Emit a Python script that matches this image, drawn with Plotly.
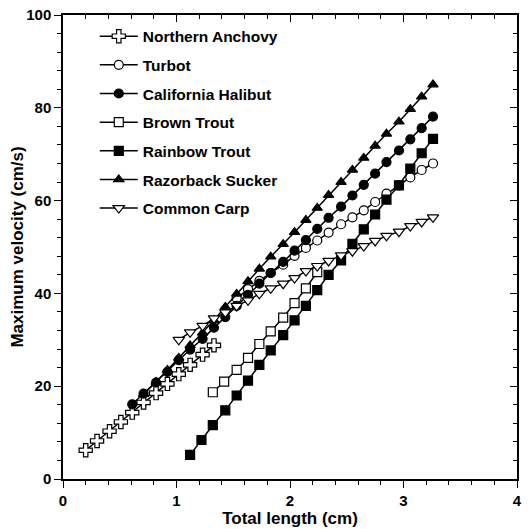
import plotly.graph_objects as go

# ---- data ----
anchovy_len = [0.20, 0.30, 0.41, 0.51, 0.61, 0.71, 0.82, 0.92, 1.02, 1.12, 1.23, 1.33]
anchovy_vel = [6.2, 8.2, 10.3, 12.3, 14.3, 16.5, 18.5, 20.5, 22.6, 24.6, 26.8, 28.8]

turbot_len = [1.53, 1.63, 1.73, 1.83, 1.94, 2.04, 2.14,
              2.24, 2.34, 2.45, 2.55, 2.65, 2.75, 2.85, 2.96, 3.06, 3.16, 3.26]
turbot_vel = [39.0, 40.9, 42.7, 44.4, 46.2, 48.1, 49.8,
              51.4, 53.1, 54.9, 56.4, 57.9, 59.7, 61.5, 63.3, 65.0, 66.6, 68.0]

halibut_len = [0.61, 0.71, 0.82, 0.92, 1.02, 1.12, 1.23, 1.33, 1.43, 1.53, 1.63, 1.73,
               1.83, 1.94, 2.04, 2.14, 2.24, 2.34, 2.45, 2.55, 2.65, 2.75, 2.85, 2.96,
               3.06, 3.16, 3.26]
halibut_vel = [16.1, 18.4, 20.8, 23.1, 25.6, 27.9, 30.2, 32.6, 34.9, 37.3, 39.7, 42.1,
               44.4, 46.8, 49.2, 51.5, 53.9, 56.3, 58.7, 61.1, 63.4, 65.8, 68.3, 70.8,
               73.2, 75.6, 78.1]

brown_len = [1.32, 1.42, 1.53, 1.63, 1.73, 1.83, 1.94, 2.04, 2.14, 2.24]
brown_vel = [18.7, 21.0, 23.5, 26.1, 29.1, 31.8, 34.8, 37.9, 41.1, 44.6]

rainbow_len = [1.12, 1.22, 1.32, 1.43, 1.53, 1.63, 1.73, 1.83, 1.94, 2.04, 2.14,
               2.24, 2.34, 2.45, 2.55, 2.65, 2.75, 2.85, 2.96, 3.06, 3.16, 3.26]
rainbow_vel = [5.2, 8.4, 11.6, 14.8, 18.0, 21.2, 24.6, 27.7, 31.0, 34.2, 37.3,
               40.7, 44.0, 47.1, 50.7, 53.8, 57.0, 60.2, 63.3, 66.9, 70.2, 73.3]

razorback_len = [0.71, 0.82, 0.92, 1.02, 1.12, 1.23, 1.33, 1.43, 1.53, 1.63, 1.73, 1.83,
                 1.94, 2.04, 2.14, 2.24, 2.34, 2.45, 2.55, 2.65, 2.75, 2.85, 2.96, 3.06,
                 3.16, 3.26]
razorback_vel = [18.3, 20.9, 23.5, 26.1, 28.8, 31.5, 34.2, 37.1, 39.9, 42.6, 45.3, 47.9,
                 50.6, 53.2, 55.8, 58.4, 61.2, 64.0, 66.6, 69.2, 71.8, 74.4, 77.0, 79.7,
                 82.4, 85.0]

carp_len = [1.02, 1.12, 1.23, 1.33, 1.43, 1.53, 1.63, 1.73, 1.83, 1.94, 2.04, 2.14,
            2.24, 2.34, 2.45, 2.55, 2.65, 2.75, 2.85, 2.96, 3.06, 3.16, 3.26]
carp_vel = [30.0, 31.6, 33.0, 34.6, 35.9, 37.3, 38.5, 39.9, 41.1, 42.1, 43.3, 44.8,
            45.9, 47.0, 48.2, 49.1, 50.2, 51.3, 52.4, 53.3, 54.5, 55.4, 56.4]

x_ticks = [0, 1, 2, 3, 4]
y_ticks = [0, 20, 40, 60, 80, 100]

# name, x, y, symbol, fill, size
series = [
    ("Northern Anchovy", anchovy_len, anchovy_vel, "cross", "white", 11),
    ("Turbot", turbot_len, turbot_vel, "circle", "white", 9),
    ("California Halibut", halibut_len, halibut_vel, "circle", "black", 9),
    ("Brown Trout", brown_len, brown_vel, "square", "white", 9),
    ("Rainbow Trout", rainbow_len, rainbow_vel, "square", "black", 9),
    ("Razorback Sucker", razorback_len, razorback_vel, "triangle-up", "black", 9),
    ("Common Carp", carp_len, carp_vel, "triangle-down", "white", 10),
]

FONT = "Liberation Sans, Arial, Helvetica, sans-serif"

fig = go.Figure()
for i, (name, xs, ys, sym, fill, sz) in enumerate(series):
    fig.add_trace(go.Scatter(
        x=xs, y=ys, name=name, mode="lines+markers", legendgroup=f"g{i}",
        line=dict(color="black", width=1.5),
        marker=dict(symbol=sym, size=sz, color=fill, line=dict(color="black", width=1.2)),
    ))

# invisible trace to activate the mirrored top/right axes
fig.add_trace(go.Scatter(x=[0], y=[0], xaxis="x2", yaxis="y2", mode="markers",
                         marker=dict(opacity=0), showlegend=False, hoverinfo="skip"))

tickfont = dict(family=FONT, size=15, color="black", weight="bold")
titlefont = dict(family=FONT, size=17, color="black", weight="bold")

fig.update_layout(
    width=522, height=521,
    margin=dict(l=55, r=13, t=7, b=50, autoexpand=False),
    paper_bgcolor="white", plot_bgcolor="white",
    font=dict(family=FONT, color="black"),
    showlegend=True,
    legend=dict(x=0.07, y=0.99, xanchor="left", yanchor="top",
                bgcolor="rgba(0,0,0,0)", borderwidth=0,
                font=dict(family=FONT, size=15.5, color="black", weight="bold"),
                itemwidth=38, tracegroupgap=5.5, traceorder="grouped"),
    xaxis=dict(range=[0, 4], tickvals=x_ticks, ticks="outside", ticklen=7, tickwidth=1.3,
               tickcolor="black", showline=True, linecolor="black", linewidth=1.5,
               showgrid=False, zeroline=False, tickfont=tickfont, automargin=False,
               ticklabeloverflow="allow",
               minor=dict(dtick=0.2, ticks="outside", ticklen=4, tickwidth=1,
                          tickcolor="black", showgrid=False),
               title=dict(text="Total length (cm)", font=titlefont, standoff=0)),
    yaxis=dict(range=[0, 100], tickvals=y_ticks, ticks="outside", ticklen=7, tickwidth=1.3,
               tickcolor="black", showline=True, linecolor="black", linewidth=1.5,
               showgrid=False, zeroline=False, tickfont=tickfont, automargin=False,
               ticklabeloverflow="allow",
               minor=dict(dtick=4, ticks="outside", ticklen=4, tickwidth=1,
                          tickcolor="black", showgrid=False),
               title=dict(text="Maximum velocity (cm/s)", font=titlefont, standoff=13)),
    xaxis2=dict(range=[0, 4], overlaying="x", side="top", tickvals=x_ticks, ticks="inside",
                ticklen=7, tickwidth=1.3, tickcolor="black", showticklabels=False,
                showline=True, linecolor="black", linewidth=1.5, showgrid=False, zeroline=False,
                automargin=False,
                minor=dict(dtick=0.2, ticks="inside", ticklen=4, tickwidth=1,
                           tickcolor="black", showgrid=False)),
    yaxis2=dict(range=[0, 100], overlaying="y", side="right", tickvals=y_ticks, ticks="inside",
                ticklen=7, tickwidth=1.3, tickcolor="black", showticklabels=False,
                showline=True, linecolor="black", linewidth=1.5, showgrid=False, zeroline=False,
                automargin=False,
                minor=dict(dtick=4, ticks="inside", ticklen=4, tickwidth=1,
                           tickcolor="black", showgrid=False)),
)

fig.write_html("out.html")
